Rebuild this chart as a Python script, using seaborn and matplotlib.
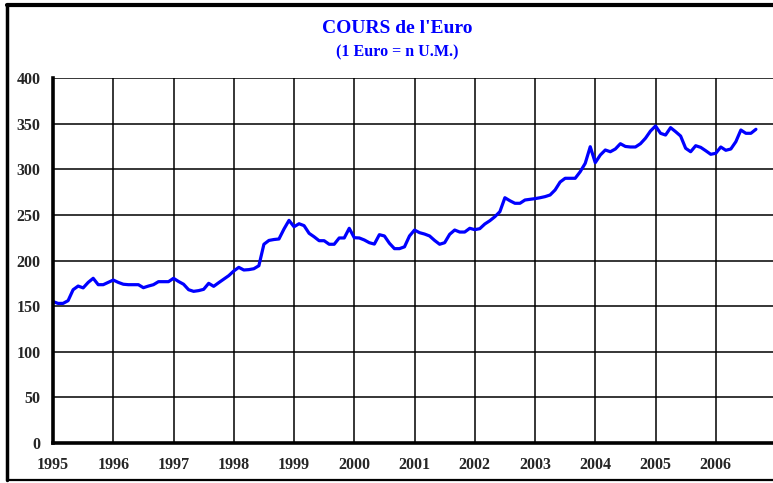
import numpy as np
import pandas as pd
import matplotlib
matplotlib.use("Agg")
import matplotlib.pyplot as plt
from matplotlib.lines import Line2D
import seaborn as sns

# monthly rate, Jan 1995 -> Sep 2006 (1 Euro = n U.M.)
first_year = 1995
rate = [
    155, 153, 153, 156, 168, 172, 170, 176, 180.5, 173.5, 173.5, 176,
    178.6, 176, 174, 173.5, 173.5, 173.5, 170.2, 172, 173.5, 176.8, 176.8, 176.8,
    180.5, 177, 174, 168, 166.2, 167, 168.4, 175, 171.7, 175.7, 179.5, 183.4,
    188.5, 192.5, 189.6, 190, 191, 194.3, 217.8, 222, 223, 223.6, 234.5, 244,
    237, 240.3, 238.2, 229.8, 226, 221.7, 221.7, 217.8, 217.8, 224.7, 224.7, 235.3,
    225, 224.7, 222.5, 219.5, 218, 228.3, 226.9, 218.9, 213, 213, 215, 226.9,
    233.4, 230.5, 229, 226.9, 222, 217.8, 219.5, 228.7, 233.4, 231.2, 231.2, 235.3,
    233.8, 234.9, 240, 243.6, 248, 253.5, 268.8, 265.5, 262.7, 262.7, 266.3, 267,
    267.8, 268.8, 270, 271.8, 277.3, 286, 290.1, 290.1, 290.1, 297.3, 306.5, 324.7,
    307.2, 315.6, 321.1, 319.2, 322.2, 328, 325, 324.4, 324.4, 328, 334, 341.9,
    347.4, 339.4, 337.5, 345.6, 341.2, 336.4, 323, 319.2, 325.8, 324, 320.3, 316.4,
    317.5, 324.4, 320.8, 322.2, 330.2, 343, 339.4, 339.4, 343.8,
]
years = list(range(1995, 2007))
y_ticks = [0, 50, 100, 150, 200, 250, 300, 350, 400]

df = pd.DataFrame({
    "date": first_year + np.arange(len(rate)) / 12,
    "rate": rate,
})

sns.set_style("white")
plt.rcParams["font.family"] = ["Liberation Serif", "DejaVu Serif"]

fig = plt.figure(figsize=(7.73, 4.83), dpi=100)
ax = fig.add_axes([0.0686, 0.0828, 0.9314, 0.7557])

sns.lineplot(data=df, x="date", y="rate", color="#0000ff", linewidth=2.3, ax=ax)

ax.set_xlim(1995, 2006.95)
ax.set_ylim(0, 400)
ax.set_xticks(years)
ax.set_yticks(y_ticks)
ax.set_xticklabels([str(y) for y in years], fontsize=11.5, fontweight="bold")
ax.set_yticklabels([str(v) for v in y_ticks], fontsize=11.5, fontweight="bold")
ax.set_xlabel("")
ax.set_ylabel("")
ax.grid(True, color="black", linewidth=1.1)
ax.set_axisbelow(True)
ax.tick_params(axis="x", direction="in", length=3, width=3, pad=10)
ax.tick_params(axis="y", direction="in", length=3, width=3, pad=9)

for side in ["top", "right"]:
    ax.spines[side].set_visible(False)
for side in ["left", "bottom"]:
    ax.spines[side].set_color("black")
    ax.spines[side].set_linewidth(2.6)

fig.text(0.514, 0.942, "COURS de l'Euro", color="#0000ff", fontsize=14,
         fontweight="bold", ha="center", va="center")
fig.text(0.514, 0.892, "(1 Euro = n U.M.)", color="#0000ff", fontsize=11.5,
         fontweight="bold", ha="center", va="center")

# outer frame (right edge is cut off in the original)
fig.add_artist(Line2D([0.009, 1.0], [0.989, 0.989], color="black", linewidth=3,
                      transform=fig.transFigure))
fig.add_artist(Line2D([0.009, 0.009], [0.006, 0.989], color="black", linewidth=2.5,
                      transform=fig.transFigure))
fig.add_artist(Line2D([0.009, 1.0], [0.006, 0.006], color="black", linewidth=1.6,
                      transform=fig.transFigure))

fig.savefig("out.png", dpi=100)
